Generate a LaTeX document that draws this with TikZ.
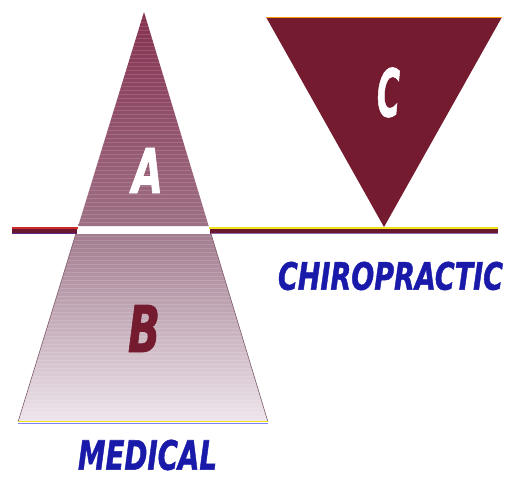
\documentclass[tikz,border=0pt]{standalone}
\usepackage{fontspec}
\newfontfamily\heavyfont{DejaVu Sans Condensed}[FakeBold=1.3]
\usepackage{graphicx}
\definecolor{maroon}{HTML}{741B30}
\definecolor{linecore}{HTML}{6A1730}
\definecolor{topA}{HTML}{85304F}
\definecolor{botA}{HTML}{9E7085}
\definecolor{topB}{HTML}{A27C8F}
\definecolor{botB}{HTML}{EEE6EC}
\definecolor{labelblue}{HTML}{1A1AAA}
\definecolor{edgeyellow}{HTML}{F2E21A}
\definecolor{edgered}{HTML}{D02A2A}
\definecolor{edgepurple}{HTML}{5A2A8A}
\tikzset{
  caption/.style={inner sep=0pt, text=labelblue, font=\heavyfont\bfseries\itshape},
  letter/.style={inner sep=0pt, font=\heavyfont\bfseries\itshape},
  barcore/.style={line width=6pt, draw=linecore},
  stripe/.style={draw=white, opacity=0.14, line width=0.8pt}
}
\begin{document}
\begin{tikzpicture}[x=1pt,y=-1pt]
\useasboundingbox[fill=white] (0,0) rectangle (508,482);
% A region (upper part of big triangle)
\shade[top color=topA, bottom color=botA] (144,12) -- (208.7,226) -- (78.2,226) -- cycle;
\begin{scope}
\clip (144,12) -- (208.7,226) -- (78.2,226) -- cycle;
\foreach \yy in {14,18,...,226} \draw[stripe] (70,\yy) -- (220,\yy);
\end{scope}
% B region (lower trapezoid)
\shade[top color=topB, bottom color=botB] (75.8,234) -- (211.1,234) -- (268,422) -- (18,422) -- cycle;
\begin{scope}
\clip (75.8,234) -- (211.1,234) -- (268,422) -- (18,422) -- cycle;
\foreach \yy in {236,240,...,422} \draw[stripe] (10,\yy) -- (280,\yy);
\end{scope}
\draw[draw=botA!80!black, line width=0.6pt] (75.8,234) -- (18,422);
\draw[draw=botA!80!black, line width=0.6pt] (211.1,234) -- (268,422);
\draw[draw=edgeyellow, line width=1.6pt] (18,421.5) -- (268,421.5);
\draw[draw=blue!50, line width=0.8pt] (18,423.2) -- (268,423.2);
% inverted triangle C
\fill[maroon] (266,17) -- (502,17) -- (384,227) -- cycle;
\draw[draw=orange!80!yellow, line width=1.2pt] (266,17.4) -- (502,17.4);
% horizontal bar
\coordinate (l1) at (12,230.5);
\coordinate (l2) at (77,230.5);
\coordinate (r1) at (210,230.5);
\coordinate (r2) at (498,230.5);
\draw[barcore] (l1) -- (l2);
\draw[barcore] (r1) -- (r2);
\draw[draw=edgered, line width=1.2pt] (12,228) -- (77.5,228);
\draw[draw=edgepurple, line width=1pt] (12,233.2) -- (76,233.2);
\draw[draw=edgeyellow, line width=1.3pt] (209,228) -- (498,228);
\draw[draw=edgepurple!70, line width=0.8pt] (211,233.3) -- (498,233.3);
% letters
\node[letter, text=white] (A) at (147.5,170.5) {\resizebox{31pt}{45pt}{A}};
\node[letter, text=maroon] (B) at (144,328.5) {\resizebox{32pt}{47pt}{B}};
\node[letter, text=white] (C) at (388.5,92.5) {\resizebox{23pt}{49pt}{C}};
% captions
\node[caption] (medical) at (147.5,455) {\resizebox{139pt}{30pt}{MEDICAL}};
\node[caption] (chiro) at (390.5,276) {\resizebox{225pt}{28pt}{CHIROPRACTIC}};
\end{tikzpicture}
\end{document}
